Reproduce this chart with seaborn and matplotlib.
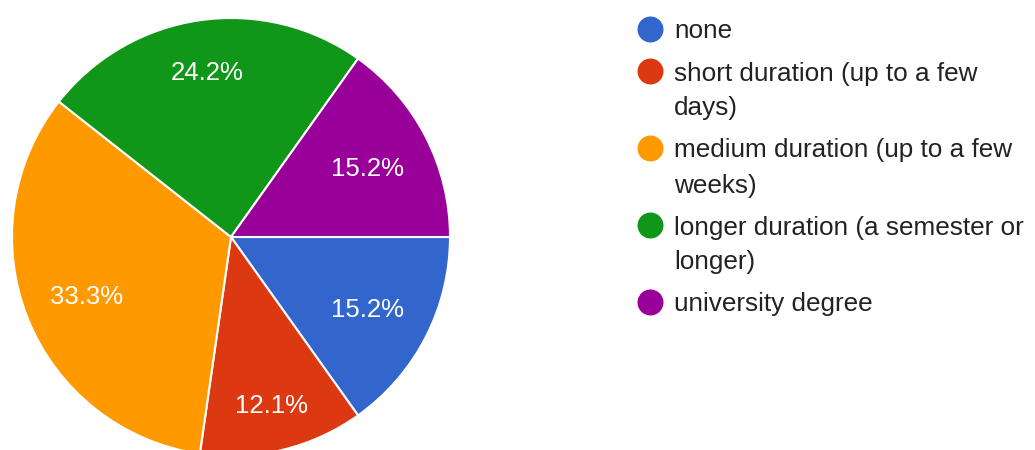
import numpy as np
import seaborn as sns
import matplotlib.pyplot as plt

categories = ["none", "short duration (up to a few\ndays)",
              "medium duration (up to a few\nweeks)",
              "longer duration (a semester or\nlonger)", "university degree"]
counts = [5, 4, 11, 8, 5]
colors = ["#3366cc", "#dc3912", "#ff9900", "#109618", "#990099"]
# radial position of each percentage label (fraction of radius)
label_dist = [0.70, 0.78, 0.71, 0.77, 0.70]

sns.set_style("white")
plt.rcParams['font.family'] = ['Liberation Sans', 'DejaVu Sans']

fig = plt.figure(figsize=(10.35, 4.5), dpi=100)
ax = fig.add_axes([0, 0, 1, 1])

cx, cy, r = 231, 237, 219
wedges, texts, autotexts = ax.pie(
    counts, colors=colors, center=(cx, cy), radius=r,
    startangle=0, counterclock=True, autopct='%1.1f%%', pctdistance=0.7,
    wedgeprops=dict(edgecolor='white', linewidth=1.5),
    textprops=dict(color='white', fontsize=18.5),
)
for w, t, d in zip(wedges, autotexts, label_dist):
    th = np.deg2rad((w.theta1 + w.theta2) / 2)
    t.set_position((cx + r * d * np.cos(th), cy + r * d * np.sin(th)))
    t.set_va('center_baseline')
# pie resets the limits, so set pixel-like limits afterwards;
# y is inverted, so counterclock=True ends up clockwise on screen
ax.set_xlim(0, 1035)
ax.set_ylim(450, 0)
ax.set_aspect('equal')
ax.axis('off')

# legend
y = 29
for lab, col in zip(categories, colors):
    ax.scatter(650, y, s=350, color=col, zorder=3, clip_on=False, linewidths=0)
    for i, line in enumerate(lab.split("\n")):
        ax.text(674, y + 35 * i, line, fontsize=18.8, color='#222222',
                va='center_baseline')
    y += 42 + 35 * lab.count("\n")

fig.savefig("out.png", dpi=100)
